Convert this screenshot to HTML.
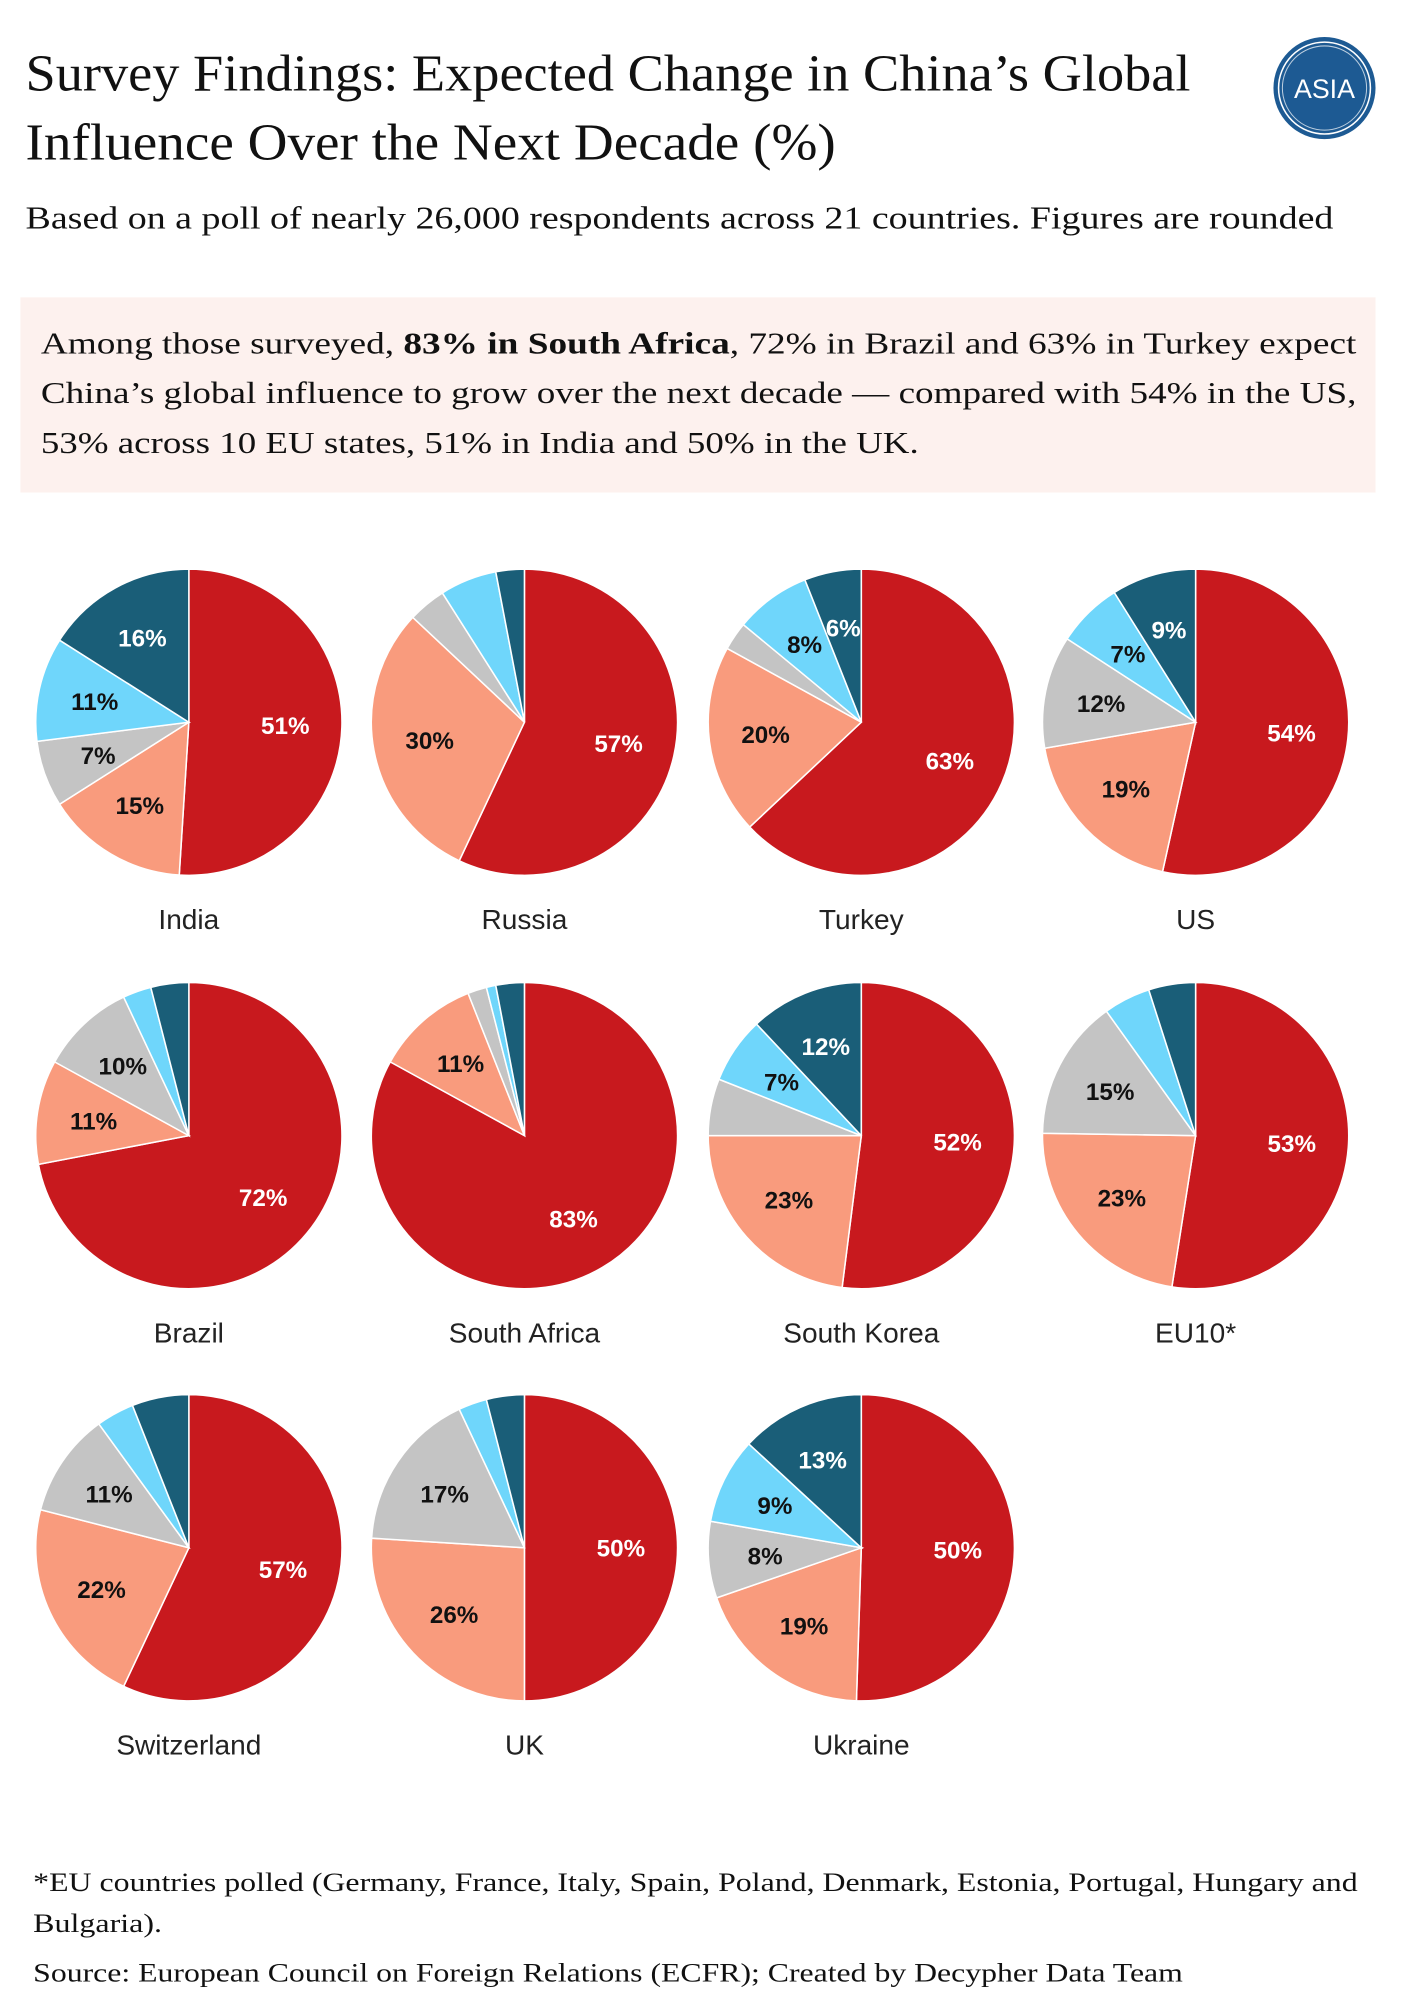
<!DOCTYPE html>
<html><head><meta charset="utf-8">
<style>
html,body{margin:0;padding:0;background:#fff;}
body{width:1414px;height:2000px;overflow:hidden;}
#wrap{position:absolute;left:0;top:0;width:1110px;height:1570px;transform:scale(1.276);transform-origin:0 0;}
.serif{font-family:"Liberation Serif","DejaVu Serif",serif;color:#111;}
.ln{position:absolute;white-space:nowrap;transform-origin:0 50%;}
#callout{position:absolute;left:16px;top:233px;width:1062px;height:153px;background:#fdf1ee;}
svg text{font-family:"Liberation Sans",sans-serif;}
</style></head>
<body>
<div id="wrap">
<div class="serif ln" data-w="913" style="left:20px;top:32px;font-size:41px;line-height:50px">Survey Findings: Expected Change in China’s Global</div>
<div class="serif ln" data-w="635" style="left:20px;top:86px;font-size:41px;line-height:50px">Influence Over the Next Decade (%)</div>
<div class="serif ln" data-w="1025" style="left:20px;top:157px;font-size:25px;line-height:30px">Based on a poll of nearly 26,000 respondents across 21 countries. Figures are rounded</div>
<svg style="position:absolute;left:996px;top:27px" width="84" height="84">
<circle cx="42" cy="42" r="40" fill="#1d5a93"/>
<circle cx="42" cy="42" r="36" fill="none" stroke="#fff" stroke-width="1.2"/>
<circle cx="42" cy="42" r="33" fill="none" stroke="#fff" stroke-width="0.8" opacity="0.7"/>
<text x="42" y="50" text-anchor="middle" fill="#fff" font-size="21">ASIA</text>
</svg>
<div id="callout"></div>
<div class="serif ln" data-w="1031" style="left:32px;top:255px;font-size:24px;line-height:30px">Among those surveyed, <b>83% in South Africa</b>, 72% in Brazil and 63% in Turkey expect</div>
<div class="serif ln" data-w="1031" style="left:32px;top:294px;font-size:24px;line-height:30px">China’s global influence to grow over the next decade — compared with 54% in the US,</div>
<div class="serif ln" data-w="688" style="left:32px;top:333px;font-size:24px;line-height:30px">53% across 10 EU states, 51% in India and 50% in the UK.</div>
<svg id="pies" style="position:absolute;left:0;top:0" width="1100" height="1420"></svg>
<div class="serif ln" data-w="1038" style="left:26px;top:1462px;font-size:21px;line-height:26px">*EU countries polled (Germany, France, Italy, Spain, Poland, Denmark, Estonia, Portugal, Hungary and</div>
<div class="serif ln" data-w="101" style="left:26px;top:1494px;font-size:21px;line-height:26px">Bulgaria).</div>
<div class="serif ln" data-w="901" style="left:26px;top:1533px;font-size:21px;line-height:26px">Source: European Council on Foreign Relations (ECFR); Created by Decypher Data Team</div>
</div>
<script>
const countries=["India","Russia","Turkey","US","Brazil","South Africa","South Korea","EU10*","Switzerland","UK","Ukraine"];
const increaseLot=[51,57,63,54,72,83,52,53,57,50,50];
const increaseSome=[15,30,20,19,11,11,23,23,22,26,19];
const noChange=[7,4,3,12,10,2,6,15,11,17,8];
const decreaseSome=[11,6,8,7,3,1,7,5,4,3,9];
const decreaseLot=[16,3,6,9,4,3,12,5,6,4,13];
const labelMin=[7,7,6,7,7,7,7,7,7,7,7];
const colors=["#c8191e","#f99b7d","#c4c4c4","#6fd6fb","#1a5e78"];
const textColors=["#fff","#111","#111","#111","#fff"];
document.querySelectorAll('.ln').forEach(el=>{
  const w=el.getBoundingClientRect().width/1.276;
  el.style.transform='scaleX('+(parseFloat(el.dataset.w)/w)+')';
});
const NS="http://www.w3.org/2000/svg";
const svg=document.getElementById('pies');
const colX=[148,411,675,937], rowY=[566,890,1213], R=120;
function pt(cx,cy,r,frac){const a=frac*2*Math.PI;return [cx+r*Math.sin(a),cy-r*Math.cos(a)];}
countries.forEach((c,i)=>{
  const cx=colX[i%4], cy=rowY[Math.floor(i/4)];
  const vals=[increaseLot[i],increaseSome[i],noChange[i],decreaseSome[i],decreaseLot[i]];
  const tot=vals.reduce((a,b)=>a+b,0);
  const g=document.createElementNS(NS,'g');
  
  
  svg.appendChild(g);
  let cum=0;
  vals.forEach((v,k)=>{
    const f0=cum/tot, f1=(cum+v)/tot; cum+=v;
    const p0=pt(cx,cy,R,f0), p1=pt(cx,cy,R,f1);
    const path=document.createElementNS(NS,'path');
    path.setAttribute('d',`M${cx},${cy}L${p0[0]},${p0[1]}A${R},${R} 0 ${(f1-f0)>0.5?1:0} 1 ${p1[0]},${p1[1]}Z`);
    path.setAttribute('fill',colors[k]);path.setAttribute('stroke','#fff');path.setAttribute('stroke-width','1.2');
    
    
    g.appendChild(path);
    if(v>=labelMin[i]){
      const m=pt(cx,cy,R*0.63,(f0+f1)/2);
      const t=document.createElementNS(NS,'text');
      t.setAttribute('x',m[0]);t.setAttribute('y',m[1]+7);t.setAttribute('text-anchor','middle');
      t.setAttribute('font-size','19');t.setAttribute('font-weight','bold');t.setAttribute('fill',textColors[k]);
      t.textContent=v+'%';
      
      
      g.appendChild(t);
    }
  });
  const n=document.createElementNS(NS,'text');
  n.setAttribute('x',cx);n.setAttribute('y',cy+162);n.setAttribute('text-anchor','middle');
  n.setAttribute('font-size','22');n.setAttribute('fill','#222');n.textContent=c;
  
  
  g.appendChild(n);
});
</script>
</body></html>
